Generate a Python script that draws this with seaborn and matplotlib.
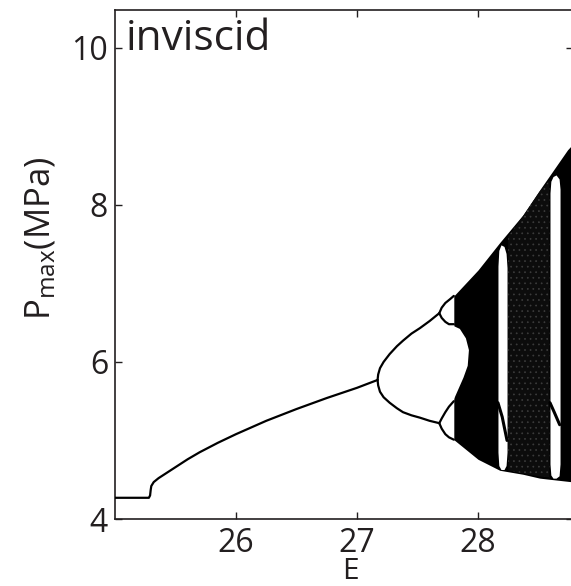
import numpy as np
import pandas as pd
import matplotlib
matplotlib.use("Agg")
import matplotlib.pyplot as plt
import seaborn as sns

# ---- data ----
# period-1 branch (E, Pmax)
p1_E = [25.00, 25.28, 25.29, 25.295, 25.30, 25.32, 25.36, 25.42, 25.50, 25.60, 25.70,
        25.85, 26.00, 26.25, 26.50, 26.75, 27.00, 27.17]
p1_P = [4.27, 4.27, 4.30, 4.37, 4.42, 4.47, 4.52, 4.58, 4.66, 4.76, 4.85,
        4.97, 5.08, 5.25, 5.40, 5.54, 5.67, 5.77]
# period-2 branches
p2u_E = [27.17, 27.175, 27.19, 27.22, 27.27, 27.33, 27.38, 27.45, 27.52, 27.60, 27.68]
p2u_P = [5.77, 5.84, 5.92, 6.00, 6.10, 6.20, 6.27, 6.36, 6.43, 6.52, 6.62]
p2l_E = [27.17, 27.175, 27.19, 27.22, 27.27, 27.33, 27.38, 27.45, 27.52, 27.60, 27.68]
p2l_P = [5.77, 5.70, 5.62, 5.55, 5.48, 5.41, 5.36, 5.32, 5.29, 5.25, 5.22]
# period-4 loops
p4uu_E = [27.68, 27.70, 27.73, 27.77, 27.80]
p4uu_P = [6.62, 6.69, 6.75, 6.80, 6.84]
p4ul_E = [27.68, 27.70, 27.73, 27.76, 27.80]
p4ul_P = [6.62, 6.56, 6.51, 6.48, 6.48]
p4lu_E = [27.68, 27.70, 27.73, 27.76, 27.80]
p4lu_P = [5.22, 5.28, 5.36, 5.43, 5.50]
p4ll_E = [27.68, 27.70, 27.73, 27.76, 27.80]
p4ll_P = [5.22, 5.15, 5.08, 5.04, 5.01]
# chaotic band envelope
band_E = [27.80, 28.00, 28.18, 28.37, 28.51, 28.74, 28.80]
band_U = [6.84, 7.17, 7.52, 7.87, 8.19, 8.70, 8.80]
band_L = [5.01, 4.76, 4.62, 4.57, 4.52, 4.48, 4.47]
# white interior of the period-2 region (closed outline)
hole_E = [27.68, 27.72, 27.78, 27.85, 27.90, 27.925, 27.915, 27.88, 27.84, 27.80, 27.76, 27.72, 27.68]
hole_P = [6.62, 6.53, 6.47, 6.42, 6.30, 6.15, 5.95, 5.80, 5.66, 5.52, 5.43, 5.33, 5.22]
# periodic windows inside chaos
w1_E = [28.165, 28.172, 28.19, 28.215, 28.232, 28.24]
w1_top = [7.22, 7.42, 7.49, 7.47, 7.38, 7.20]
w1_bot = [4.85, 4.68, 4.63, 4.63, 4.68, 4.85]
w1_branch_E = [28.165, 28.20, 28.24]
w1_branch_P = [5.48, 5.30, 5.00]
w2_E = [28.595, 28.602, 28.62, 28.645, 28.67, 28.678]
w2_top = [8.15, 8.30, 8.36, 8.38, 8.33, 8.20]
w2_bot = [4.70, 4.56, 4.52, 4.52, 4.55, 4.70]
w2_branch_E = [28.595, 28.63, 28.675]
w2_branch_P = [5.48, 5.36, 5.20]
# speckled (less dense) chaotic stretch
speck_E = [28.25, 28.37, 28.51, 28.59]
speck_U = [7.60, 7.85, 8.17, 8.31]
speck_L = [4.62, 4.58, 4.54, 4.53]

xticks = [26, 27, 28]
yticks = [4, 6, 8, 10]

# ---- style ----
sns.set_theme(style="white")
plt.rcParams["font.family"] = ["Open Sans", "DejaVu Sans"]
plt.rcParams["mathtext.fontset"] = "custom"
plt.rcParams["mathtext.rm"] = "Open Sans"
plt.rcParams["mathtext.it"] = "Open Sans"
plt.rcParams["hatch.linewidth"] = 0.5
ink = "#231f20"

W, H = 571, 586
fig = plt.figure(figsize=(W / 100, H / 100), dpi=100)
ax = fig.add_axes([115 / W, 67 / H, (573 - 115) / W, 509 / H])

lw = 1.6
def line(E, P, lw=lw, z=5):
    df = pd.DataFrame({"E": E, "P": P})
    sns.lineplot(data=df, x="E", y="P", sort=False, estimator=None, color="black",
                 linewidth=lw, ax=ax, zorder=z)

# chaotic band
ax.fill_between(band_E, band_L, band_U, color="black", linewidth=0, zorder=1)
ax.fill_between(speck_E, speck_L, speck_U, facecolor="#0c0c0c", edgecolor="#3c3c3c",
                hatch="...", linewidth=0, zorder=1.5)
# white hole of the period-2 region
ax.fill(hole_E, hole_P, color="white", linewidth=0, zorder=2)
# windows
ax.fill_between(w1_E, w1_bot, w1_top, color="white", linewidth=0, zorder=2)
ax.fill_between(w2_E, w2_bot, w2_top, color="white", linewidth=0, zorder=2)
line(w1_branch_E, w1_branch_P, lw=2.2, z=3)
line(w2_branch_E, w2_branch_P, lw=2.2, z=3)

# branches
line(p1_E, p1_P)
line(p2u_E, p2u_P)
line(p2l_E, p2l_P)
line(p4uu_E, p4uu_P)
line(p4ul_E, p4ul_P)
line(p4lu_E, p4lu_P)
line(p4ll_E, p4ll_P)

ax.set_xlim(25, 25 + (573 - 115) / 121)
ax.set_ylim(4, 10.48)
ax.set_xticks(xticks)
ax.set_yticks(yticks)
ax.set_xticklabels([str(t) for t in xticks])
ax.set_yticklabels([str(t) for t in yticks])
ax.tick_params(direction="in", length=5, width=1, color=ink, labelsize=23,
               labelcolor=ink, left=True, bottom=True, right=True, top=True)
ax.tick_params(axis="y", pad=5)
ax.tick_params(axis="x", pad=6)
for s in ["left", "bottom", "top", "right"]:
    ax.spines[s].set_visible(True)
    ax.spines[s].set_color(ink)
    ax.spines[s].set_linewidth(1.2)

ax.set_xlabel("")
ax.set_ylabel(r"P$_{\mathrm{max}}$(MPa)", fontsize=25, color=ink)
ax.yaxis.set_label_coords((58 - 115) / 458, (519 - 238) / 509)
fig.text(350 / W, 0.0, "E", fontsize=21.5, color=ink, ha="center", va="bottom")
fig.text(126 / W, 1 - 50 / H, "inviscid", fontsize=30.5, color=ink,
         ha="left", va="baseline")

fig.savefig("out.png", dpi=100)
